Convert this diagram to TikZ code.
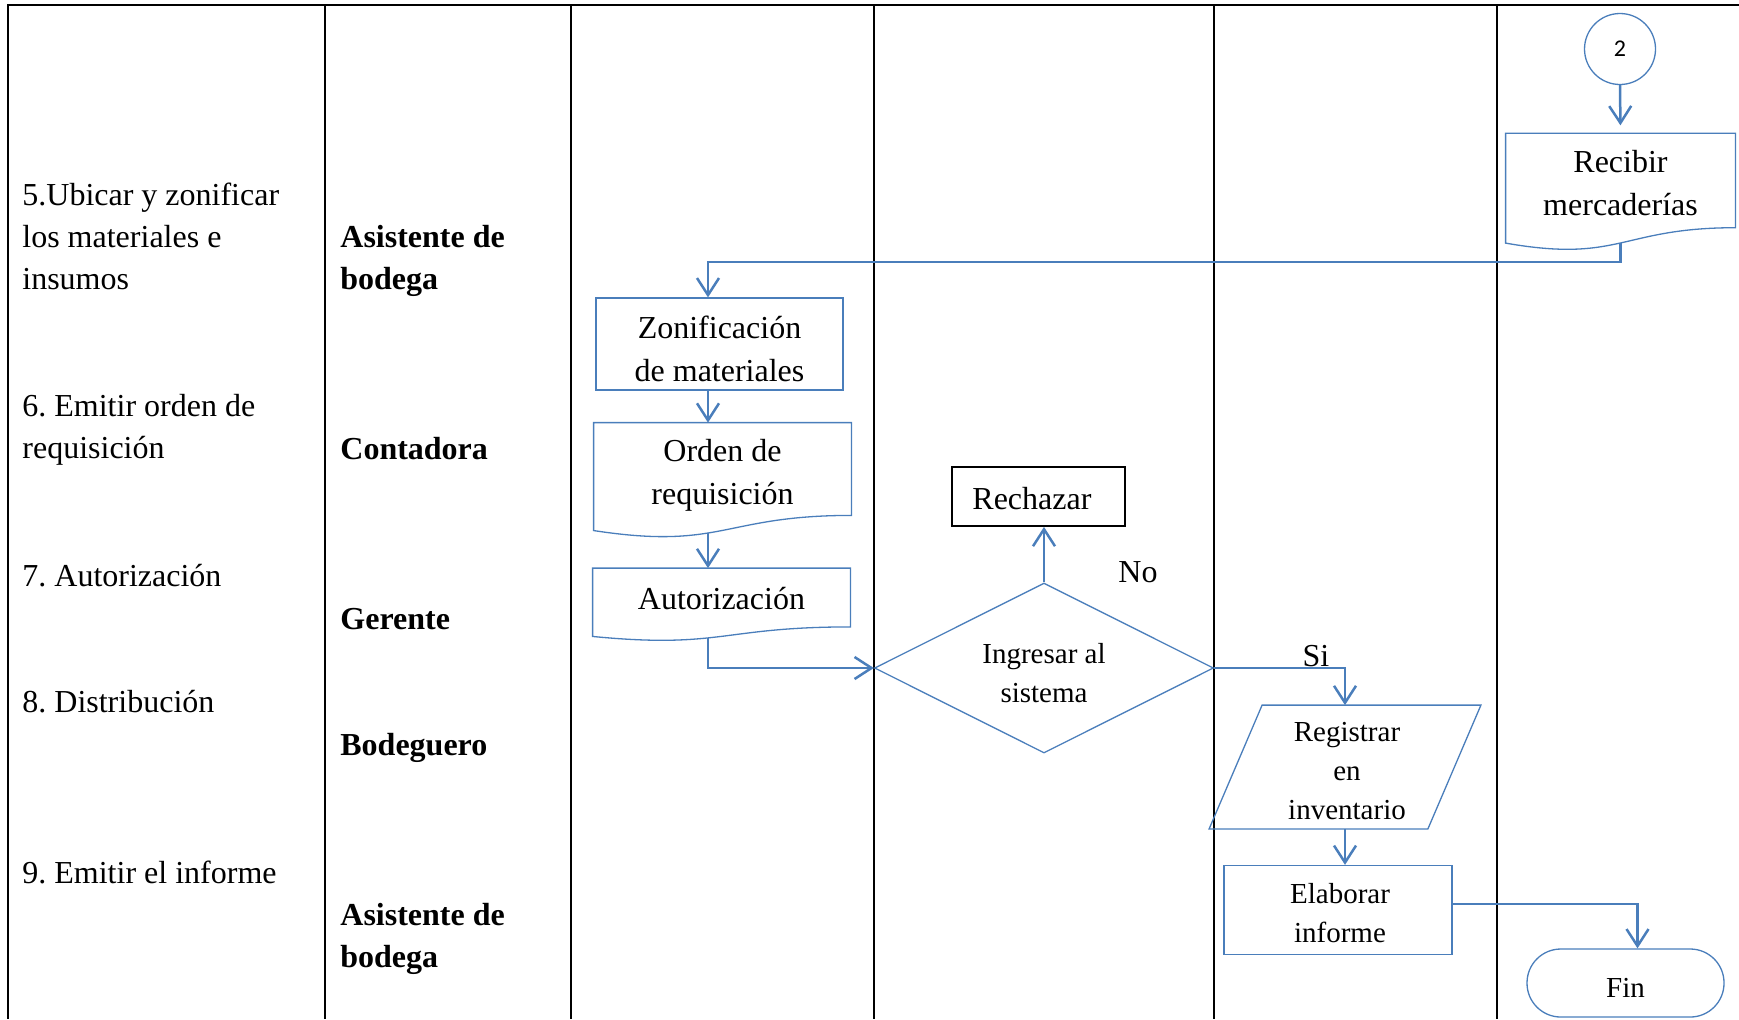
\documentclass[tikz,border=0pt]{standalone}
\usepackage{fontspec}
\setmainfont{Liberation Serif}
\newfontfamily\numfont{Carlito}
\usetikzlibrary{arrows.meta,calc,shapes.geometric}

\definecolor{flowblue}{RGB}{74,126,187}

% document symbol: straight top and sides, wavy bottom edge below the node
% #1 = node name, #2 = height of the node (picture units)
\newcommand\docwave[2]{%
  \draw[shapeline] (#1.north west) -- (#1.north east) -- (#1.south east)
    .. controls (#1.south) and ($(#1.south)+(0,0.380*#2)$) ..
    ($(#1.south west)+(0,0.1646*#2)$) -- cycle;}

% parallelogram outline around a node, #2 = horizontal slant offset
\newcommand\slantbox[2]{%
  \draw[shapeline] ($(#1.north west)+(#2,0)$) -- ($(#1.north east)+(#2,0)$)
    -- ($(#1.south east)+(-#2,0)$) -- ($(#1.south west)+(-#2,0)$) -- cycle;}

\frenchspacing
\begin{document}
\begin{tikzpicture}[x=0.5pt,y=-0.5pt,
  grid/.style={line width=1.2pt,black},
  shapeline/.style={draw=flowblue,line width=0.65pt},
  conn/.style={draw=flowblue,line width=1.25pt,
    -{Straight Barb[length=8.5pt,width=11pt,line width=1.25pt]}},
  lefttext/.style={anchor=west,align=left,inner sep=0pt,
    font=\fontsize{16}{21}\selectfont},
  roletext/.style={anchor=west,align=left,inner sep=0pt,
    font=\fontsize{16}{21}\selectfont\bfseries},
  bigtext/.style={align=center,inner sep=0pt,
    font=\fontsize{16}{21.5}\selectfont},
  smalltext/.style={align=center,inner sep=0pt,
    font=\fontsize{14.5}{19.5}\selectfont},
]
\useasboundingbox (0,0) rectangle (1739,1019);

% ---- table ----
\draw[grid] (7,5) -- (1739,5);
\foreach \gx in {8,325,571,874,1214,1497}
  \draw[grid] (\gx,5) -- (\gx,1019);

% ---- activities ----
\node[lefttext] (a5) at (22,236) {5.Ubicar y zonificar\\los materiales e\\insumos};
\node[lefttext] (a6) at (22,430) {6. Emitir orden de\\requisición};
\node[lefttext] (a7) at (22,576) {7. Autorización};
\node[lefttext] (a8) at (22,702) {8. Distribución};
\node[lefttext] (a9) at (22,872) {9. Emitir el informe};

% ---- responsibles ----
\node[roletext] (r5) at (340,261) {Asistente de\\bodega};
\node[roletext] (r6) at (340,449) {Contadora};
\node[roletext] (r7) at (340,619) {Gerente};
\node[roletext] (r8) at (340,748) {Bodeguero};
\node[roletext] (r9) at (340,939) {Asistente de\\bodega};

% ---- flowchart nodes ----
\node[circle,shapeline,minimum size=35.5pt,inner sep=0pt,
  font=\numfont\fontsize{12}{14}\selectfont] (c2) at (1620,49) {2};

\node[minimum width=114.5pt,minimum height=46.8pt,
  label={[bigtext,yshift=-1.3pt]center:Recibir\\mercaderías}] (rec) at (1620.5,180.5) {};
\docwave{rec}{93.6}

\node[shapeline,draw,minimum width=123.5pt,minimum height=46pt,
  label={[bigtext,yshift=-2.2pt]center:Zonificación\\de materiales}] (zon)
  at (719.5,344) {};

\node[minimum width=128.5pt,minimum height=46pt,
  label={[bigtext,yshift=-3.3pt]center:Orden de\\requisición}] (ord) at (722.5,469) {};
\docwave{ord}{92}

\node[minimum width=128.5pt,minimum height=29pt,
  label={[bigtext,yshift=-0.5pt]center:Autorización}] (aut) at (721.5,597.5) {};
\docwave{aut}{58}

\node[diamond,shapeline,draw,aspect=2,minimum width=169.5pt,minimum height=85pt,
  label={[smalltext,yshift=-2.5pt]center:Ingresar al\\sistema}] (dia) at (1044,668) {};

\node[draw=black,line width=0.9pt,minimum width=86.5pt,minimum height=29.5pt,
  label={[bigtext,yshift=-1pt,xshift=-3.3pt]center:Rechazar}]
  (rech) at (1038.5,496.5) {};

\node[bigtext] (lno) at (1138,572) {No};
\node[bigtext] (lsi) at (1316,656) {Si};

\node[minimum width=109pt,minimum height=61.5pt,
  label={[smalltext,yshift=-1.8pt,xshift=1pt]center:Registrar\\en\\inventario}]
  (reg) at (1345,767) {};
\slantbox{reg}{26.5}

\node[shapeline,draw,minimum width=114pt,minimum height=44.5pt,
  label={[smalltext,yshift=-1.7pt,xshift=1pt]center:Elaborar\\informe}] (ela)
  at (1338,910) {};

\node[shapeline,draw,rounded corners=16.9pt,minimum width=98.5pt,minimum height=34pt,
  label={[smalltext,yshift=-2.2pt]center:Fin}] (fin) at (1625.5,983) {};

% ---- connectors ----
\coordinate (colA) at (708,0);
\coordinate (bend1) at (708,262);

\draw[conn,shorten >=4pt] (c2.south) -- (rec.north);
\draw[conn] ($(rec.south)+(0,15.3)$) |- (bend1) -- (zon.north -| bend1);
\draw[conn] (zon.south -| colA) -- (ord.north -| colA);
\draw[conn] ($(ord.south -| colA)+(0,17.8)$) -- (aut.north -| colA);
\draw[conn] ($(aut.south -| colA)+(0,11)$) |- (dia.west);
\draw[conn] (dia.north) -- (dia.north |- rech.south);
\draw[conn] (dia.east) -| (reg.north);
\draw[conn] (reg.south) -- (reg.south |- ela.north);
\draw[conn] ($(ela.east)+(0,-6)$) -| ($(fin.north)+(12,0)$);
\end{tikzpicture}
\end{document}
